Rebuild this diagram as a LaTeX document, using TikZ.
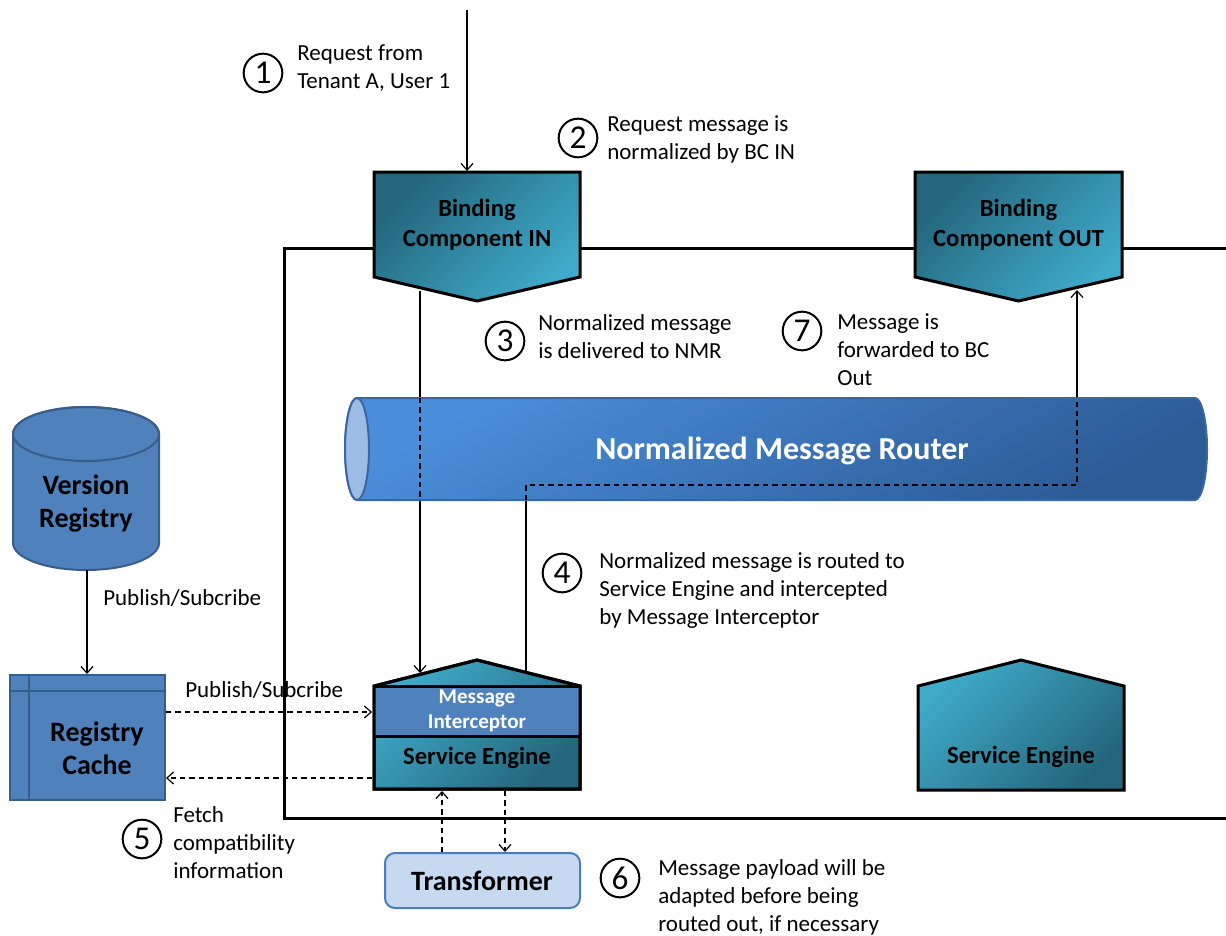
\documentclass[tikz,border=0pt]{standalone}
\usepackage{fontspec}
\setmainfont{Carlito}
\usetikzlibrary{arrows.meta}
\definecolor{bcdark}{HTML}{24667C}
\definecolor{bclight}{HTML}{3FAAC9}
\definecolor{miblue}{HTML}{4F81BD}
\definecolor{nmrlight}{HTML}{4A8EDB}
\definecolor{nmrdark}{HTML}{2D5B96}
\definecolor{nmrborder}{HTML}{3A67A0}
\definecolor{nmrend}{HTML}{9CBCE5}
\definecolor{regfill}{HTML}{4F81BD}
\definecolor{regborder}{HTML}{385D8A}
\definecolor{trfill}{HTML}{C6D9F1}
\definecolor{trborder}{HTML}{4A7EBB}
\begin{document}
\begin{tikzpicture}[x=0.75pt,y=-0.75pt,
  conn/.style={line width=0.9pt,-{Straight Barb[length=5pt,width=9pt]}},
  dconn/.style={conn,dash pattern=on 4pt off 3pt},
  dline/.style={line width=0.9pt,dash pattern=on 4pt off 3pt},
  lbl/.style={anchor=west,align=left,inner sep=0pt,font=\fontsize{17.25}{21}\selectfont},
  num/.style={circle,draw,line width=1.5pt,minimum size=29pt,inner sep=0pt,font=\fontsize{25}{25}\selectfont},
  bcshape/.style={draw,line width=2.25pt,top color=bcdark,bottom color=bclight,shading angle=45},
  seshape/.style={draw,line width=2.25pt,top color=bclight,bottom color=bcdark,shading angle=45},
  outline/.style={draw,line width=2.25pt},
  boxtext/.style={align=center,inner sep=0pt,font=\bfseries\fontsize{18.5}{22.5}\selectfont},
  regtext/.style={align=center,inner sep=0pt,font=\bfseries\fontsize{21}{24.75}\selectfont},
  regshape/.style={draw=regborder,fill=regfill,line width=1.5pt}
]
\useasboundingbox (0,0) rectangle (1226,935);
\fill[white] (0,0) rectangle (1226,935);

% frame
\draw[line width=2.25pt] (1226,248) -- (284,248) -- (284,818) -- (1226,818);

% Binding components
\path[bcshape] (374,172) -- (580,172) -- (580,277) -- (477,301) -- (374,277) -- cycle;
\node[boxtext] (bcin) at (477,225) {Binding\\Component IN};
\path[bcshape] (915,172) -- (1122,172) -- (1122,277) -- (1018.5,301) -- (915,277) -- cycle;
\node[boxtext] (bcout) at (1018.5,225) {Binding\\Component OUT};

% Service engine with interceptor
\path[seshape] (374,686) -- (477,660) -- (580,686) -- (580,789) -- (374,789) -- cycle;
\fill[miblue] (374,686) rectangle (580,736);
\draw[line width=2.25pt] (374,686) -- (477,660) -- (580,686) -- (580,789) -- (374,789) -- cycle;
\draw[line width=2.25pt] (374,686) -- (580,686) (374,736) -- (580,736);
\node[align=center,inner sep=0pt,text=white,font=\bfseries\fontsize{15.8}{18.75}\selectfont] (mi) at (477,711) {Message\\Interceptor};
\node[boxtext] (se1) at (477,758) {Service Engine};

% Service engine right
\path[seshape] (918,686) -- (1021,660) -- (1124,686) -- (1124,790) -- (918,790) -- cycle;
\node[boxtext] (se2) at (1021,757) {Service Engine};

% coordinates
\coordinate (inSrc) at (467,10);
\coordinate (bcinTop) at (467,171);
\coordinate (bcinOut) at (420,291);
\coordinate (seInTop) at (420,673);
\coordinate (seOutTop) at (526,672);
\coordinate (bend1) at (526,485);
\coordinate (bend2) at (1077,485);
\coordinate (bcoutIn) at (1077,290);
\coordinate (nmrA) at (420,398);
\coordinate (nmrB) at (420,500);
\coordinate (nmrC) at (526,500);
\coordinate (nmrD) at (1077,398);

% connectors behind the router
\draw[conn] (inSrc) -- (bcinTop);
\draw[conn] (bcinOut) -- (seInTop);
\draw[conn] (seOutTop) -- (bend1) -- (bend2) -- (bcoutIn);

% Normalized Message Router
\path[draw=nmrborder,line width=1.5pt,top color=nmrlight,bottom color=nmrdark,shading angle=30]
  (357,398) -- (1195,398) arc[start angle=-90,end angle=90,x radius=12,y radius=51]
  -- (357,500) arc[start angle=90,end angle=270,x radius=12,y radius=51] -- cycle;
\draw[nmrborder,fill=nmrend,line width=1.5pt] (357,449) ellipse[x radius=12,y radius=51];
\node[inner sep=0pt,text=white,font=\bfseries\fontsize{24}{28}\selectfont] (nmr) at (782,451) {Normalized Message Router};
\draw[dline] (nmrA) -- (nmrB);
\draw[dline] (nmrC) -- (bend1) -- (bend2) -- (nmrD);

% Version registry
\path[regshape] (13,434) -- (13,543) arc[start angle=180,end angle=0,x radius=73,y radius=27]
  -- (159,434) arc[start angle=0,end angle=-180,x radius=73,y radius=27] -- cycle;
\draw[regborder,line width=1.5pt] (86,434) ellipse[x radius=73,y radius=27];
\node[regtext] (vr) at (86,504) {Version\\Registry};

% Registry cache
\path[regshape] (10,675) rectangle (165,800);
\draw[regborder,line width=1.5pt] (29,675) -- (29,800) (10,691) -- (165,691);
\node[regtext] (rc) at (97,748) {Registry\\Cache};

% Transformer
\path[draw=trborder,fill=trfill,line width=1.5pt,rounded corners=7.5pt] (385,853) rectangle (580,908);
\node[regtext] (tr) at (482,881) {Transformer};

% other connectors
\coordinate (vrBot) at (87,570);
\coordinate (rcTop) at (87,674);
\coordinate (rcR1) at (166,712);
\coordinate (miL) at (372,712);
\coordinate (seL) at (372,778);
\coordinate (rcR2) at (166,778);
\coordinate (trTop1) at (442,852);
\coordinate (seBot1) at (442,791);
\coordinate (seBot2) at (505,791);
\coordinate (trTop2) at (505,852);
\draw[conn] (vrBot) -- (rcTop);
\draw[dconn] (rcR1) -- (miL);
\draw[dconn] (seL) -- (rcR2);
\draw[dconn] (trTop1) -- (seBot1);
\draw[dconn] (seBot2) -- (trTop2);

% labels
\node[lbl] (ps1) at (103,598) {Publish/Subcribe};
\node[lbl] (ps2) at (185,690) {Publish/Subcribe};

\node[num] (c1) at (263,73) {1};
\node[lbl] (l1) at (297,68) {Request from\\Tenant A, User 1};
\node[num] (c2) at (578,138) {2};
\node[lbl] (l2) at (607,139) {Request message is\\normalized by BC IN};
\node[num] (c3) at (505,341) {3};
\node[lbl] (l3) at (538,337) {Normalized message\\is delivered to NMR};
\node[num] (c7) at (802,331) {7};
\node[lbl] (l7) at (837,350) {Message is\\forwarded to BC\\Out};
\node[num] (c4) at (562,573) {4};
\node[lbl] (l4) at (599,590) {Normalized message is routed to\\Service Engine and intercepted\\by Message Interceptor};
\node[num] (c5) at (142,839) {5};
\node[lbl] (l5) at (173,843) {Fetch\\compatibility\\information};
\node[num] (c6) at (620,878) {6};
\node[lbl] (l6) at (658,897) {Message payload will be\\adapted before being\\routed out, if necessary};
\end{tikzpicture}
\end{document}
